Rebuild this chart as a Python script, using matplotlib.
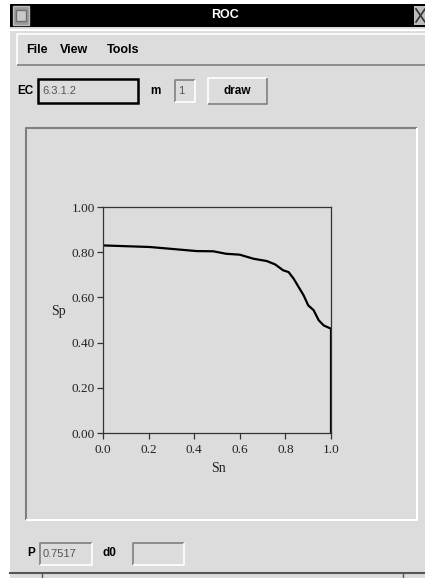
import matplotlib
matplotlib.use("Agg")
import matplotlib.pyplot as plt
from matplotlib.patches import Rectangle

# ROC curve
sn = [0.0, 0.117, 0.205, 0.308, 0.41, 0.484, 0.54, 0.60, 0.66, 0.718, 0.755,
      0.79, 0.814, 0.836, 0.858, 0.88, 0.90, 0.924, 0.946, 0.968, 0.99, 1.0, 1.0]
sp = [0.830, 0.826, 0.823, 0.814, 0.805, 0.804, 0.793, 0.789, 0.771, 0.761, 0.746,
      0.720, 0.712, 0.683, 0.646, 0.609, 0.565, 0.543, 0.499, 0.476, 0.466, 0.462, 0.0]

x_ticks = [0.0, 0.2, 0.4, 0.6, 0.8, 1.0]
y_ticks = [0.0, 0.2, 0.4, 0.6, 0.8, 1.0]

window_title = "ROC"
menu_items = ["File", "View", "Tools"]
ec_value = "6.3.1.2"
m_value = "1"
p_value = "0.7517"

W, H = 425, 578
BG = "#dcdcdc"
GUI_FONT = "Liberation Sans"
PLOT_FONT = "Liberation Serif"

fig = plt.figure(figsize=(W / 100, H / 100), dpi=100, facecolor=BG)

# full-figure axes in pixel coordinates for the window chrome
gui = fig.add_axes([0, 0, 1, 1], zorder=0)
gui.set_xlim(0, W)
gui.set_ylim(H, 0)
gui.axis("off")


def rect(x0, y0, x1, y1, **kw):
    gui.add_patch(Rectangle((x0, y0), x1 - x0, y1 - y0, **kw))


def sunken(x0, y0, x1, y1, face=BG, dark="#808080", light="white", lw=1.2):
    rect(x0, y0, x1, y1, facecolor=face, edgecolor="none")
    gui.plot([x0, x0, x1], [y1, y0, y0], color=dark, lw=lw, solid_capstyle="butt")
    gui.plot([x0, x1, x1], [y1, y1, y0], color=light, lw=lw, solid_capstyle="butt")


def raised(x0, y0, x1, y1):
    sunken(x0, y0, x1, y1, dark="white", light="#808080")


def label(x, y, s, bold=True, color="black", ha="left", size=8.5):
    gui.text(x, y, s, ha=ha, va="center", fontsize=size, color=color,
             family=GUI_FONT, fontweight="bold" if bold else "normal")


# white desktop strip on the left / top
rect(0, 0, 10, H, facecolor="white", edgecolor="none")
rect(0, 0, W, 4, facecolor="white", edgecolor="none")

# title bar
rect(10, 4, W, 27, facecolor="black", edgecolor="none")
rect(13, 6, 29, 25, facecolor="#9a9a9a", edgecolor="#bbbbbb", lw=1)
rect(16, 10, 26, 21, facecolor="#c8c8c8", edgecolor="#707070", lw=1)
gui.text(225, 15.5, window_title, ha="center", va="center", color="white",
         fontsize=9, fontweight="bold", family=GUI_FONT)
rect(414, 6, W, 25, facecolor="#bcbcbc", edgecolor="none")
gui.plot([416, 425], [9, 22], color="#333333", lw=1.2)
gui.plot([416, 425], [22, 9], color="#333333", lw=1.2)
gui.plot([10, W], [30, 30], color="white", lw=1.5)

# menu bar
raised(17, 34, W + 2, 65)
for item, x in zip(menu_items, [26, 60, 107]):
    label(x, 50, item, size=9)

# EC / m / draw row
label(17, 91, "EC")
rect(38, 79, 138, 103, facecolor=BG, edgecolor="black", lw=1.8)
label(42, 91, ec_value, bold=False, color="#555555", size=8)
label(150, 91, "m")
sunken(175, 80, 195, 102)
label(178, 91, m_value, bold=False, color="#555555", size=8)
raised(208, 78, 267, 104)
label(237.5, 91, "draw", ha="center")

# chart panel
sunken(26, 128, 417, 520, lw=1.5)

# bottom row
label(27, 553, "P")
sunken(40, 543, 92, 565)
label(43, 554, p_value, bold=False, color="#555555", size=8)
label(103, 553, "d0")
sunken(133, 543, 184, 565)

# status line
gui.plot([10, W], [573, 573], color="#555555", lw=1.5)
gui.plot([42, 42], [573, H], color="#555555", lw=1)
gui.plot([403, 403], [573, H], color="#555555", lw=1)

# ROC plot
ax_l, ax_r, ax_t, ax_b = 103, 331, 207, 433
ax = fig.add_axes([ax_l / W, (H - ax_b) / H, (ax_r - ax_l) / W, (ax_b - ax_t) / H],
                  zorder=2)
ax.set_facecolor(BG)
ax.plot(sn, sp, color="black", lw=1.6, solid_joinstyle="round")
ax.set_xlim(0, 1)
ax.set_ylim(0, 1)
ax.set_xticks(x_ticks)
ax.set_yticks(y_ticks)
ax.set_xticklabels([f"{v:.1f}" for v in x_ticks])
ax.set_yticklabels([f"{v:.2f}" for v in y_ticks])
for s in ax.spines.values():
    s.set_color("#333333")
    s.set_linewidth(0.9)
ax.tick_params(direction="out", length=4, width=0.9, color="#333333",
               labelsize=9.5, labelcolor="#222222", pad=2)
ax.tick_params(axis="x", pad=4)
for t in ax.get_xticklabels() + ax.get_yticklabels():
    t.set_family(PLOT_FONT)

ax.set_xlabel("Sn", family=PLOT_FONT, fontsize=10, color="#222222")
ax.set_ylabel("Sp", family=PLOT_FONT, fontsize=10, color="#222222", rotation=0,
              ha="center", va="center")
ax.xaxis.set_label_coords((219 - ax_l) / (ax_r - ax_l), (ax_b - 469) / (ax_b - ax_t))
ax.yaxis.set_label_coords((58 - ax_l) / (ax_r - ax_l), (ax_b - 312) / (ax_b - ax_t))
ax.xaxis.label.set_va("center")

fig.savefig("out.png", dpi=100, facecolor=BG)
